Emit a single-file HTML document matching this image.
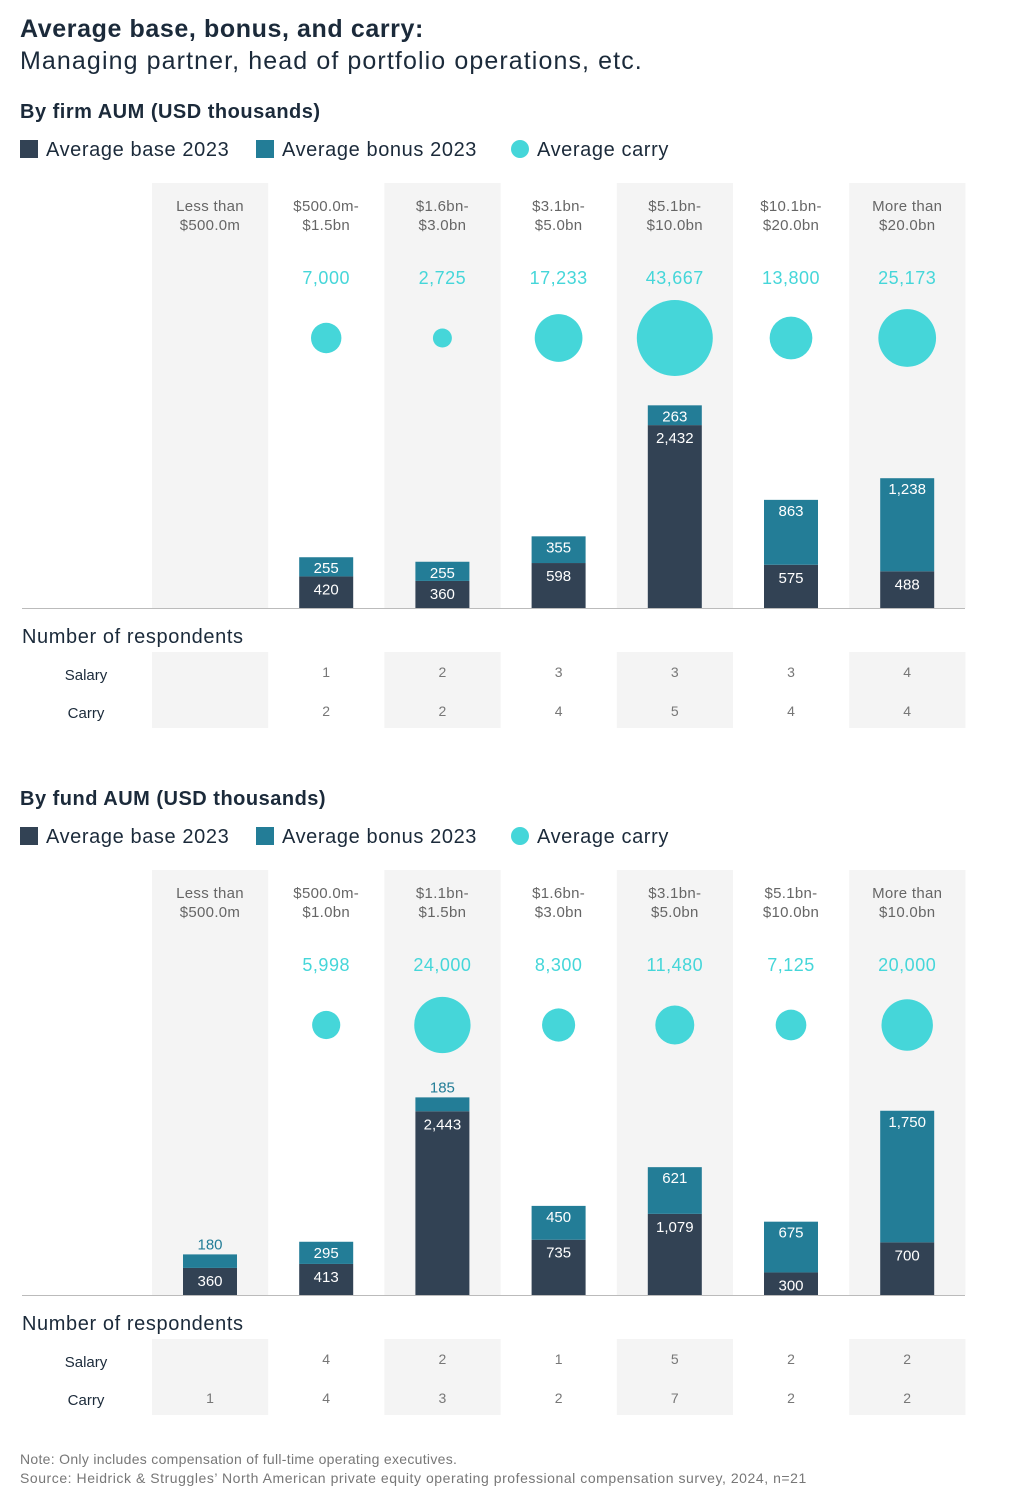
<!DOCTYPE html>
<html><head><meta charset="utf-8">
<style>
body{margin:0;background:#fff;width:1010px;height:1503px;overflow:hidden;font-family:"Liberation Sans",sans-serif;color:#1b2a3a}
svg text{font-family:"Liberation Sans",sans-serif}
</style></head><body>
<svg id="c" width="1010" height="1503" xmlns="http://www.w3.org/2000/svg">
<text x="20" y="37" font-size="25" font-weight="bold" fill="#1b2a3a" letter-spacing="0.6">Average base, bonus, and carry:</text>
<text x="20" y="69" font-size="25" fill="#1b2a3a" letter-spacing="1.1">Managing partner, head of portfolio operations, etc.</text>
<text x="20" y="1464" font-size="14" fill="#777" letter-spacing="0.3">Note: Only includes compensation of full-time operating executives.</text>
<text x="20" y="1483" font-size="14" fill="#777" letter-spacing="0.55">Source: Heidrick &amp; Struggles’ North American private equity operating professional compensation survey, 2024, n=21</text>
</svg>
<script>
const firmCats=[["Less than","$500.0m"],["$500.0m-","$1.5bn"],["$1.6bn-","$3.0bn"],["$3.1bn-","$5.0bn"],["$5.1bn-","$10.0bn"],["$10.1bn-","$20.0bn"],["More than","$20.0bn"]];
const firmBase=[null,420,360,598,2432,575,488];
const firmBonus=[null,255,255,355,263,863,1238];
const firmCarry=[null,7000,2725,17233,43667,13800,25173];
const firmSalaryN=["",1,2,3,3,3,4];
const firmCarryN=["",2,2,4,5,4,4];
const fundCats=[["Less than","$500.0m"],["$500.0m-","$1.0bn"],["$1.1bn-","$1.5bn"],["$1.6bn-","$3.0bn"],["$3.1bn-","$5.0bn"],["$5.1bn-","$10.0bn"],["More than","$10.0bn"]];
const fundBase=[360,413,2443,735,1079,300,700];
const fundBonus=[180,295,185,450,621,675,1750];
const fundCarry=[null,5998,24000,8300,11480,7125,20000];
const fundSalaryN=["",4,2,1,5,2,2];
const fundCarryN=[1,4,3,2,7,2,2];

const svg=document.getElementById('c');
const NS='http://www.w3.org/2000/svg';
function mk(tag,attrs,txt){const e=document.createElementNS(NS,tag);for(const k in attrs)e.setAttribute(k,attrs[k]);if(txt!==undefined)e.textContent=txt;svg.appendChild(e);return e;}
const fmt=v=>v.toLocaleString('en-US');
const colX=i=>152+i*116.2;
const colC=i=>colX(i)+58;
const yScale=v=>v*0.0752;
const rScale=v=>38*Math.sqrt(v/43667);
const BASE='#324254',BONUS='#237d97',CYAN='#45d6d9';

function section(top,title,cats,base,bonus,carry,sal,car,key){
  let e;
  e=mk('text',{x:20,y:top+8,'font-size':20,'font-weight':'bold',fill:'#1b2a3a','letter-spacing':0.5},title);
  
  const ly=top+39;
  const leg=[[BASE,'Average base 2023',20,'rect'],[BONUS,'Average bonus 2023',256,'rect'],[CYAN,'Average carry',511,'circle']];
  leg.forEach(l=>{
    if(l[3]=='rect'){e=mk('rect',{x:l[2],y:ly-9,width:18,height:18,fill:l[0]});}
    else{e=mk('circle',{cx:l[2]+9,cy:ly,r:9,fill:l[0]});}
    
    e=mk('text',{x:l[2]+26,y:ly+7,'font-size':20,fill:'#1b2a3a','letter-spacing':0.6},l[1]);
    
  });
  const cTop=top+73, baseY=top+498;
  for(let i=0;i<7;i+=2){
    e=mk('rect',{x:colX(i),y:cTop,width:116.2,height:baseY-cTop,fill:'#f4f4f4'});
    
    e=mk('rect',{x:colX(i),y:baseY+44,width:116.2,height:76,fill:'#f4f4f4'});
    
  }
  cats.forEach((c,i)=>{
    e=mk('text',{x:colC(i),y:top+101,'font-size':15,fill:'#666','text-anchor':'middle','letter-spacing':0.3},c[0]);
    
    e=mk('text',{x:colC(i),y:top+120,'font-size':15,fill:'#666','text-anchor':'middle','letter-spacing':0.3},c[1]);
    
    if(carry[i]!=null){
      e=mk('text',{x:colC(i),y:top+174,'font-size':18,fill:CYAN,'text-anchor':'middle','letter-spacing':0.5},fmt(carry[i]));
      
      e=mk('circle',{cx:colC(i),cy:top+228,r:rScale(carry[i]),fill:CYAN});
      
    }
    if(base[i]!=null){
      const hb=yScale(base[i]),hn=yScale(bonus[i]);
      const bt=baseY-hb,nt=bt-hn;
      e=mk('rect',{x:colC(i)-27,y:bt,width:54,height:hb,fill:BASE});
      
      e=mk('rect',{x:colC(i)-27,y:nt,width:54,height:hn,fill:BONUS});
      
      e=mk('text',{x:colC(i),y:bt+18,'font-size':15,fill:'#fff','text-anchor':'middle'},fmt(base[i]));
      
      const inside=hn>=16;
      e=mk('text',{x:colC(i),y:inside?nt+16:nt-5,'font-size':15,fill:inside?'#fff':BONUS,'text-anchor':'middle'},fmt(bonus[i]));
      
    }
    e=mk('text',{x:colC(i),y:baseY+69,'font-size':14,fill:'#777','text-anchor':'middle'},sal[i]);
    
    e=mk('text',{x:colC(i),y:baseY+108,'font-size':14,fill:'#777','text-anchor':'middle'},car[i]);
    
  });
  e=mk('line',{x1:22,x2:965,y1:baseY+0.5,y2:baseY+0.5,stroke:'#bbb','stroke-width':1});
  
  e=mk('text',{x:22,y:baseY+35,'font-size':20,fill:'#1b2a3a','letter-spacing':0.6},'Number of respondents');
  
  e=mk('text',{x:86,y:baseY+72,'font-size':15,fill:'#1b2a3a','text-anchor':'middle'},'Salary');
  
  e=mk('text',{x:86,y:baseY+110,'font-size':15,fill:'#1b2a3a','text-anchor':'middle'},'Carry');
  
}
section(110,'By firm AUM (USD thousands)',firmCats,firmBase,firmBonus,firmCarry,firmSalaryN,firmCarryN,'firm');
section(797,'By fund AUM (USD thousands)',fundCats,fundBase,fundBonus,fundCarry,fundSalaryN,fundCarryN,'fund');
</script>
</body></html>
